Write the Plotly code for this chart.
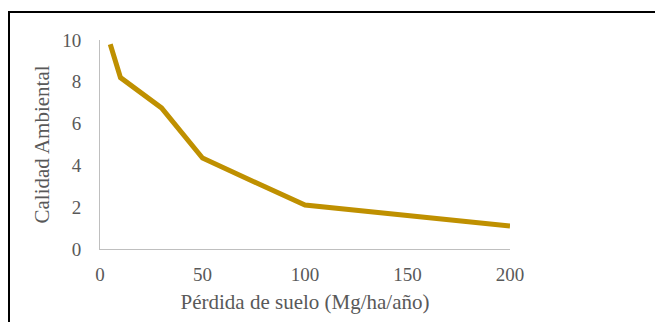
import plotly.graph_objects as go

perdida = [5, 10, 30, 50, 100, 150, 200]
calidad = [9.8, 8.2, 6.75, 4.35, 2.1, 1.6, 1.1]
x_ticks = [0, 50, 100, 150, 200]
y_ticks = [0, 2, 4, 6, 8, 10]

# page has an 8px body margin
OFF = 8
W, H = 663 - OFF, 322 - OFF
ml, mr, mt, mb = 100 - OFF, 153, 40 - OFF, 73
pw, ph = W - ml - mr, H - mt - mb

fig = go.Figure()
fig.add_trace(go.Scatter(x=perdida, y=calidad, mode="lines",
                         line=dict(color="#BF9000", width=5), showlegend=False))

fam = "Liberation Serif, Times New Roman, serif"
tick_font = dict(family=fam, color="#595959", size=19)
title_font = dict(family=fam, color="#595959", size=21)
fig.update_layout(
    width=W, height=H,
    margin=dict(l=ml, r=mr, t=mt, b=mb),
    paper_bgcolor="white", plot_bgcolor="white",
    font=tick_font,
    xaxis=dict(range=[0, 200], tickvals=x_ticks, showgrid=False, zeroline=False,
               showline=True, linecolor="#BFBFBF", linewidth=1, ticks="",
               ticklabelstandoff=8, tickfont=tick_font,
               title=dict(text="Pérdida de suelo (Mg/ha/año)", standoff=10, font=title_font)),
    yaxis=dict(range=[0, 10], tickvals=y_ticks, showgrid=False, zeroline=False,
               showline=True, linecolor="#BFBFBF", linewidth=1, ticks="",
               ticklabelstandoff=14, tickfont=tick_font,
               title=dict(text="Calidad Ambiental", standoff=6, font=title_font)),
)
fig.add_shape(type="rect", xref="paper", yref="paper",
              x0=(9 - OFF - ml) / pw, x1=(W + 20 - ml) / pw,
              y0=-(H + 20 - (H - mb)) / ph, y1=(H - mb - (12 - OFF)) / ph,
              line=dict(color="black", width=2), layer="below")
fig.write_html("out.html")
